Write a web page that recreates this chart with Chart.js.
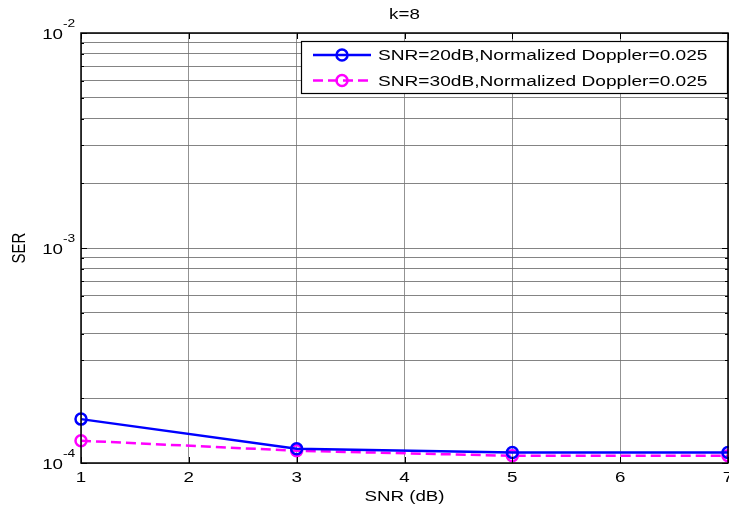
<!DOCTYPE html>
<html>
<head>
<meta charset="utf-8">
<script src="https://cdn.jsdelivr.net/npm/chart.js@4.4.1/dist/chart.umd.min.js"></script>
<style>
  html, body { margin: 0; padding: 0; background: #fff; }
  #wrap { width: 729px; height: 510px; }
</style>
</head>
<body>
<div id="wrap"><canvas id="c" width="729" height="510"></canvas></div>
<script>
// SNR points (dB) and symbol error rates
const snrPoints = [1, 3, 5, 7];
const serSnr20 = [1.60e-4, 1.165e-4, 1.12e-4, 1.12e-4];
const serSnr30 = [1.27e-4, 1.14e-4, 1.08e-4, 1.08e-4];
const seriesLabels = [
  'SNR=20dB,Normalized Doppler=0.025',
  'SNR=30dB,Normalized Doppler=0.025'
];
const xTickValues = [1, 2, 3, 4, 5, 6, 7];
const yDecadeExponents = [-4, -3, -2];
const titleText = 'k=8';
const xTitle = 'SNR (dB)';
const yTitle = 'SER';

const FONT = '"Liberation Sans", Arial, Helvetica, sans-serif';
const TEXT_STRETCH = 1.25; // wide glyph rendering

function toPoints(xs, ys) { return xs.map((x, i) => ({ x: x, y: ys[i] })); }

// every 1..9 x 10^k position between the decades, for the log grid
const yGridValues = [];
for (let e = yDecadeExponents[0]; e < yDecadeExponents[yDecadeExponents.length - 1]; e++) {
  for (let m = 1; m < 10; m++) yGridValues.push(m * Math.pow(10, e));
}
yGridValues.push(Math.pow(10, yDecadeExponents[yDecadeExponents.length - 1]));

function drawText(ctx, text, x, y, size, align, rotate) {
  ctx.save();
  ctx.translate(x, y);
  ctx.scale(TEXT_STRETCH, 1);
  if (rotate) ctx.rotate(rotate);
  ctx.font = size + 'px ' + FONT;
  ctx.textAlign = align;
  ctx.textBaseline = 'middle';
  ctx.fillStyle = '#000';
  ctx.fillText(text, 0, 0);
  ctx.restore();
}

const annotate = {
  id: 'annotate',
  afterDraw(chart) {
    const ctx = chart.ctx;
    const a = chart.chartArea;
    const xs = chart.scales.x, ys = chart.scales.y;
    ctx.save();

    // inner tick marks
    ctx.strokeStyle = '#000';
    ctx.lineWidth = 1;
    ctx.beginPath();
    xTickValues.forEach(v => {
      const px = Math.round(xs.getPixelForValue(v)) + 0.5;
      ctx.moveTo(px, a.bottom); ctx.lineTo(px, a.bottom - 6);
      ctx.moveTo(px, a.top); ctx.lineTo(px, a.top + 6);
    });
    yGridValues.forEach(v => {
      const py = Math.round(ys.getPixelForValue(v)) + 0.5;
      const len = Number.isInteger(Math.log10(v)) ? 6 : 3;
      ctx.moveTo(a.left, py); ctx.lineTo(a.left + len, py);
      ctx.moveTo(a.right, py); ctx.lineTo(a.right - len, py);
    });
    ctx.stroke();

    // axes box
    ctx.lineWidth = 1.5;
    ctx.strokeRect(a.left, a.top, a.right - a.left, a.bottom - a.top);

    // x tick labels
    xTickValues.forEach(v => {
      drawText(ctx, String(v), xs.getPixelForValue(v), a.bottom + 15, 15, 'center');
    });

    // y decade labels with superscript exponent
    yDecadeExponents.forEach(e => {
      const py = ys.getPixelForValue(Math.pow(10, e));
      const baseRight = a.left - 18;
      drawText(ctx, '10', baseRight, py + 1.5, 15, 'right');
      drawText(ctx, String(e), baseRight, py - 9, 11, 'left');
    });

    // title and axis titles
    const cx = (a.left + a.right) / 2;
    drawText(ctx, titleText, cx, 15, 15, 'center');
    drawText(ctx, xTitle, cx, a.bottom + 34, 15, 'center');
    drawText(ctx, yTitle, 20, (a.top + a.bottom) / 2, 15, 'center', -Math.PI / 2);

    // legend box
    const lx = 301, ly = 41, lw = a.right - 1 - lx, lh = 52;
    ctx.fillStyle = '#fff';
    ctx.fillRect(lx, ly, lw, lh);
    ctx.strokeStyle = '#000';
    ctx.lineWidth = 1.2;
    ctx.strokeRect(lx + 0.5, ly + 0.5, lw, lh);
    chart.data.datasets.forEach((ds, i) => {
      const cy = ly + 14 + i * 25.5;
      ctx.strokeStyle = ds.borderColor;
      ctx.lineWidth = ds.borderWidth;
      ctx.setLineDash(ds.borderDash || []);
      ctx.beginPath();
      ctx.moveTo(lx + 12, cy); ctx.lineTo(lx + 70, cy);
      ctx.stroke();
      ctx.setLineDash([]);
      ctx.beginPath();
      ctx.arc(lx + 41, cy, ds.pointRadius, 0, Math.PI * 2);
      ctx.lineWidth = ds.pointBorderWidth;
      ctx.stroke();
      drawText(ctx, ds.label, lx + 77, cy + 1, 15.3, 'left');
    });
    ctx.restore();
  }
};

new Chart(document.getElementById('c'), {
  type: 'line',
  data: {
    datasets: [
      {
        label: seriesLabels[0],
        data: toPoints(snrPoints, serSnr20),
        borderColor: '#0000ff',
        borderWidth: 2.5,
        pointRadius: 5.5,
        pointBorderWidth: 2.5,
        pointBackgroundColor: 'rgba(0,0,0,0)',
        pointBorderColor: '#0000ff',
        tension: 0,
        clip: false
      },
      {
        label: seriesLabels[1],
        data: toPoints(snrPoints, serSnr30),
        borderColor: '#ff00ff',
        borderWidth: 2.5,
        borderDash: [10, 5],
        pointRadius: 5.5,
        pointBorderWidth: 2.5,
        pointBackgroundColor: 'rgba(0,0,0,0)',
        pointBorderColor: '#ff00ff',
        tension: 0,
        clip: false
      }
    ]
  },
  options: {
    responsive: false,
    animation: false,
    layout: { autoPadding: false, padding: { left: 81, top: 33, right: 1, bottom: 47 } },
    plugins: { legend: { display: false }, title: { display: false }, tooltip: { enabled: false } },
    scales: {
      x: {
        type: 'linear',
        min: 1, max: 7,
        border: { display: false },
        afterBuildTicks: s => { s.ticks = xTickValues.map(v => ({ value: v })); },
        ticks: { display: false },
        grid: { color: 'rgba(120,120,120,0.8)', lineWidth: 1, drawTicks: false }
      },
      y: {
        type: 'logarithmic',
        min: Math.pow(10, yDecadeExponents[0]),
        max: Math.pow(10, yDecadeExponents[yDecadeExponents.length - 1]),
        border: { display: false },
        afterBuildTicks: s => { s.ticks = yGridValues.map(v => ({ value: v })); },
        ticks: { display: false },
        grid: { color: 'rgba(110,110,110,0.85)', lineWidth: 1, drawTicks: false }
      }
    }
  },
  plugins: [annotate]
});
</script>
</body>
</html>
